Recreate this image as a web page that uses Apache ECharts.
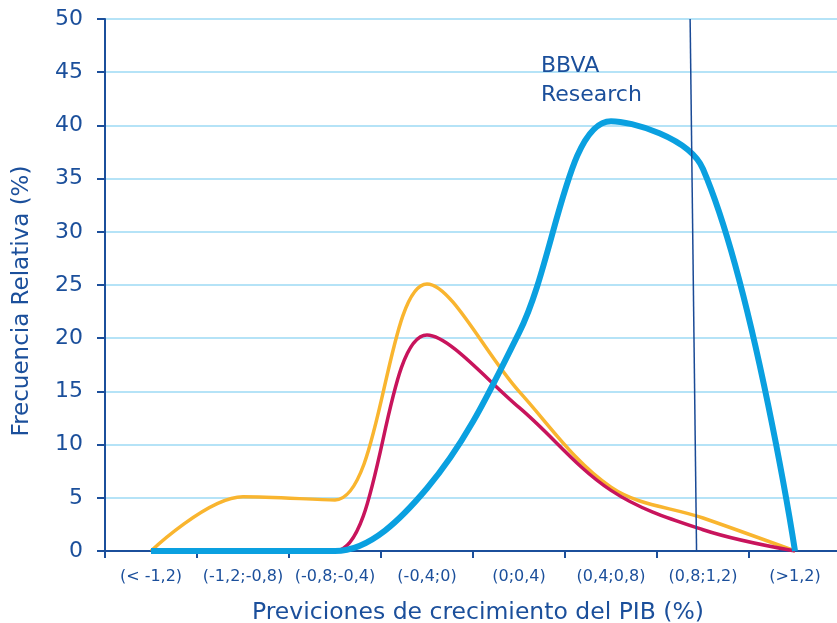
<!DOCTYPE html>
<html><head><meta charset="utf-8">
<script src="https://cdn.jsdelivr.net/npm/echarts@6/dist/echarts.min.js"></script>
<style>html,body{margin:0;padding:0;background:#fff;overflow:hidden}#c{width:837px;height:623px}</style>
</head><body><div id="c"></div>
<script>
const categories = ['(< -1,2)', '(-1,2;-0,8)', '(-0,8;-0,4)', '(-0,4;0)', '(0;0,4)', '(0,4;0,8)', '(0,8;1,2)', '(>1,2)'];
const orangeSeries = [0, 5.1, 4.8, 25.1, 15.0, 6.0, 3.1, 0];
const crimsonSeries = [0, 0, 0, 20.3, 13.5, 5.7, 2.0, 0];
const blueSeries = [0, 0, 0, 5.9, 20.5, 40.4, 35.9, 0];
const refLine = [[6.36, 50], [6.43, 0]];
const yTicks = [0, 5, 10, 15, 20, 25, 30, 35, 40, 45, 50];

const dark = '#1B4F9B';
const font = 'DejaVu Sans';
const sm = 0.35;
const chart = echarts.init(document.getElementById('c'));
chart.setOption({
  animation: false,
  textStyle: { fontFamily: font },
  title: {
    text: 'BBVA\nResearch', left: 536, top: 47,
    textStyle: { color: dark, fontSize: 22, fontWeight: 'normal', lineHeight: 29, fontFamily: font }
  },
  grid: { left: 105, top: 19, width: 736, height: 532, containLabel: false, outerBoundsMode: 'none' },
  xAxis: [{
    type: 'category', data: categories, boundaryGap: true,
    axisLine: { lineStyle: { color: dark, width: 2 } },
    axisTick: { show: true, interval: 0, length: 7, lineStyle: { color: dark, width: 2 } },
    axisLabel: { color: dark, fontSize: 16, margin: 18, interval: 0 },
    name: 'Previciones de crecimiento del PIB (%)', nameLocation: 'middle', nameGap: 50,
    nameTextStyle: { color: dark, fontSize: 23.5, padding: [0, 0, 0, 10] }
  }, {
    type: 'value', min: 0, max: 8, show: false
  }],
  yAxis: {
    type: 'value', min: 0, max: 50, interval: 5,
    axisLine: { show: true, lineStyle: { color: dark, width: 2 } },
    axisTick: { show: true, length: 8, lineStyle: { color: dark, width: 2 } },
    axisLabel: { color: dark, fontSize: 22, margin: 22, formatter: v => yTicks.includes(v) ? String(v) : '' },
    splitLine: { lineStyle: { color: '#B5E3F7', width: 2 } },
    name: 'Frecuencia Relativa (%)', nameLocation: 'middle', nameGap: 71, nameRotate: 90,
    nameTextStyle: { color: dark, fontSize: 23, padding: [0, 32, 0, 0] }
  },
  series: [
    { type: 'line', data: orangeSeries, smooth: sm, symbol: 'none', z: 3,
      lineStyle: { color: '#F9B52F', width: 3.5 } },
    { type: 'line', data: crimsonSeries, smooth: sm, symbol: 'none', z: 4,
      lineStyle: { color: '#C8145C', width: 3.5 } },
    { type: 'line', data: blueSeries, smooth: sm, symbol: 'none', z: 5,
      lineStyle: { color: '#0AA0E0', width: 6 } },
    { type: 'line', xAxisIndex: 1, data: refLine, symbol: 'none', z: 6,
      lineStyle: { color: '#1A4A96', width: 1.5 } }
  ]
});
</script></body></html>
